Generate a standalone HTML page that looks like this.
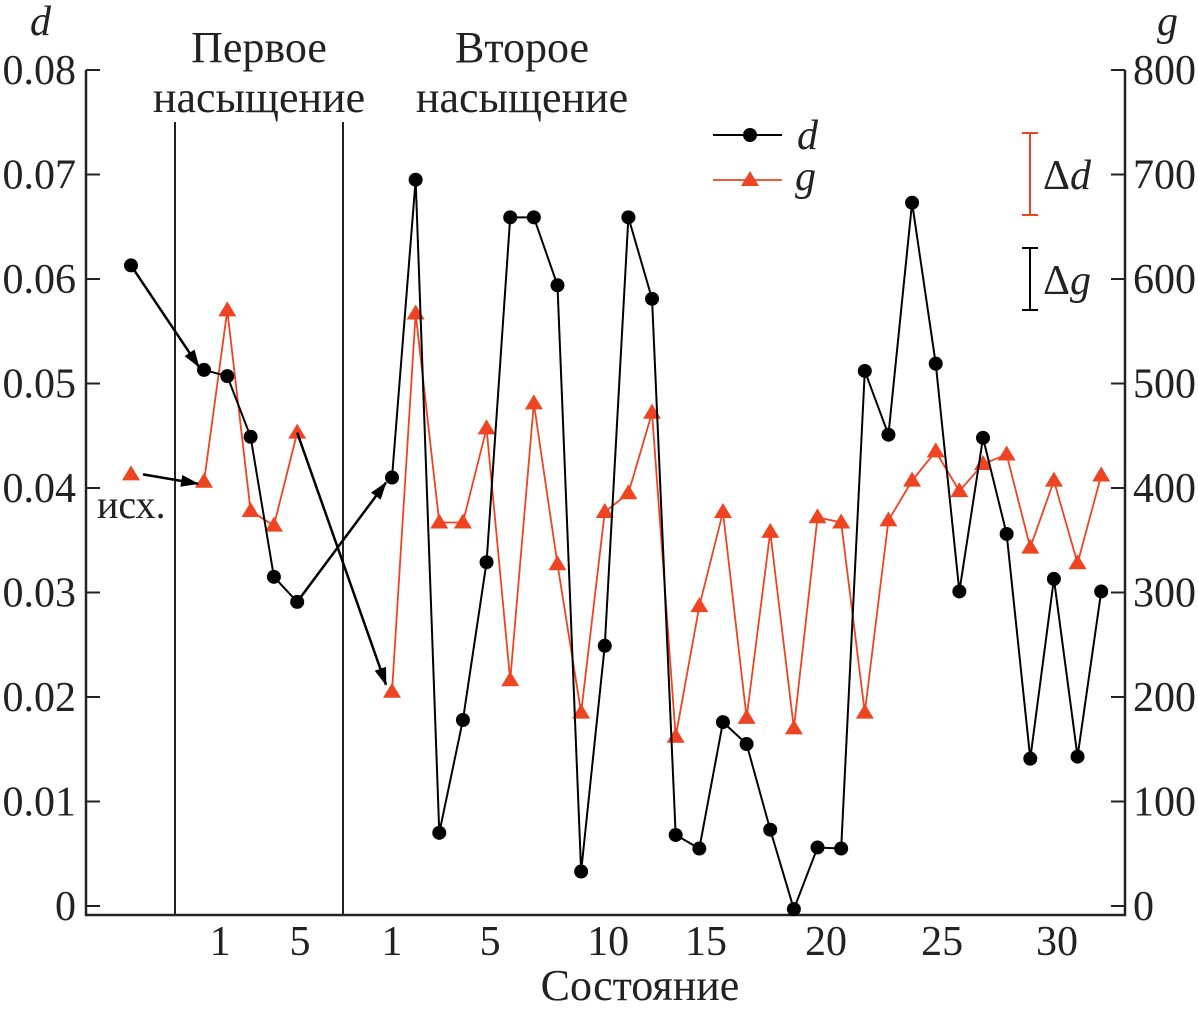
<!DOCTYPE html>
<html><head><meta charset="utf-8"><style>
body{margin:0;background:#fff}
svg text{font-family:"Liberation Serif",serif;fill:#222}
</style></head><body>
<svg id="c" width="1198" height="1014" viewBox="0 0 1198 1014" xmlns="http://www.w3.org/2000/svg">
<defs>
<marker id="ahb" markerWidth="18" markerHeight="12" refX="17" refY="6" orient="auto" markerUnits="userSpaceOnUse" viewBox="0 0 18 12"><path d="M0,0 L18,6 L0,12 z" fill="#000"/></marker>
</defs>
<g id="axes"></g>
<g id="marks"></g>
</svg>
<script>
const initD = 0.0613;
const initG = 413;
const firstD = [0.0513, 0.0507, 0.0449, 0.0315, 0.0291];
const firstG = [406, 570, 378, 364, 453];
const secondD = [0.0410,0.0695,0.0070,0.0178,0.0329,0.0659,0.0659,0.0594,0.0033,0.0249,0.0659,0.0581,0.0068,0.0055,0.0176,0.0155,0.0073,-0.0003,0.0056,0.0055,0.0512,0.0451,0.0673,0.0519,0.0301,0.0448,0.0356,0.0141,0.0313,0.0143,0.0301];
const secondG = [205,567,367,367,457,216,481,327,185,377,395,472,162,287,377,180,358,170,372,367,185,369,407,435,397,423,432,343,407,328,412];
const dTicks = ["0","0.01","0.02","0.03","0.04","0.05","0.06","0.07","0.08"];
const gTicks = ["0","100","200","300","400","500","600","700","800"];
const firstLabels = [[1.69,"1"],[5.12,"5"]];
const secondLabels = [[1,"1"],[5.15,"5"],[10.14,"10"],[14.28,"15"],[19.36,"20"],[24.27,"25"],[29.13,"30"]];

const NS="http://www.w3.org/2000/svg";
const Y0=906, YS=10450;
const yD=v=>Y0-v*YS;
const yG=v=>Y0-v*(836/800);
const xInit=131;
const xFirst=i=>204+(i-1)*23.3;
const xSecond=i=>392+(i-1)*23.64;
const axes=document.getElementById('axes'), marks=document.getElementById('marks');
function mk(tag,attrs,parent,text){const e=document.createElementNS(NS,tag);for(const k in attrs)e.setAttribute(k,attrs[k]);if(text!==undefined)e.textContent=text;parent.appendChild(e);return e;}
const FS=42;
let e;
e=mk('path',{d:'M86,70 V915 H1125 V70',fill:'none',stroke:'#222','stroke-width':2.5},axes);


dTicks.forEach((t,i)=>{const y=yD(i*0.01);
 mk('line',{x1:86,x2:100,y1:y,y2:y,stroke:'#222','stroke-width':2},axes);
 e=mk('text',{x:76,y:y+14,'text-anchor':'end','font-size':FS},axes,t);
 
 
});
gTicks.forEach((t,i)=>{const y=yG(i*100);
 mk('line',{x1:1111,x2:1125,y1:y,y2:y,stroke:'#222','stroke-width':2},axes);
 e=mk('text',{x:1133,y:y+14,'font-size':FS},axes,t);
 
 
});
firstLabels.forEach(([i,t])=>{e=mk('text',{x:xFirst(i),y:955,'text-anchor':'middle','font-size':FS},axes,t);
 
 });
secondLabels.forEach(([i,t])=>{e=mk('text',{x:xSecond(i),y:955,'text-anchor':'middle','font-size':FS},axes,t);
 
 });
e=mk('text',{x:640,y:1000,'text-anchor':'middle','font-size':44},axes,'Состояние');


e=mk('text',{x:30,y:35,'font-size':FS,'font-style':'italic'},axes,'d');


e=mk('text',{x:1157,y:35,'font-size':FS,'font-style':'italic'},axes,'g');


[175,343].forEach(x=>{e=mk('line',{x1:x,x2:x,y1:122,y2:915,stroke:'#222','stroke-width':2},axes);
 
 });
[['Первое',259,62],['насыщение',259,112],['Второе',522,62],['насыщение',522,112]].forEach(([t,x,y])=>{
 e=mk('text',{x:x,y:y,'text-anchor':'middle','font-size':44},axes,t);
 
 });
e=mk('text',{x:97,y:518,'font-size':40},axes,'исх.');



const RED='#ee4422';
function series(xs,vals,yf,color,kind,name){
 const pts=vals.map((v,i)=>[xs[i],yf(v)]);
 e=mk('polyline',{points:pts.map(p=>p.join(',')).join(' '),fill:'none',stroke:color,'stroke-width':kind==='c'?2:1.8},marks);
 
 
 pts.forEach(([x,y])=>{
  if(kind==='c'){e=mk('circle',{cx:x,cy:y,r:7,fill:'#000'},marks);}
  else{e=mk('path',{d:`M${x},${y-9} L${x+9},${y+6} L${x-9},${y+6} Z`,fill:RED},marks);}
  
  
 });
}
const fx=firstD.map((_,i)=>xFirst(i+1)), sx=secondD.map((_,i)=>xSecond(i+1));
series(fx,firstG,yG,RED,'t','g-first');
series(sx,secondG,yG,RED,'t','g-second');
series([xInit],[initG],yG,RED,'t','g-initial');
series(fx,firstD,yD,'#000','c','d-first');
series(sx,secondD,yD,'#000','c','d-second');
series([xInit],[initD],yD,'#000','c','d-initial');

function arrow(x1,y1,x2,y2){e=mk('line',{x1,y1,x2,y2,stroke:'#000','stroke-width':2.5,'marker-end':'url(#ahb)'},marks);
 
 }
arrow(xInit,yD(initD),xFirst(1)-5,yD(firstD[0])-3);
arrow(xInit+12,yG(initG),xFirst(1)-6,yG(firstG[0])+2);
arrow(xFirst(5),yD(firstD[4]),xSecond(1)-6,yD(secondD[0])+5);
arrow(xFirst(5),yG(firstG[4]),xSecond(1)-6,yG(secondG[0])-7);

e=mk('line',{x1:713,x2:782,y1:135,y2:135,stroke:'#000','stroke-width':2},marks);


mk('circle',{cx:750,cy:135,r:7,fill:'#000'},marks);
e=mk('text',{x:797,y:149,'font-size':FS,'font-style':'italic'},marks,'d');


e=mk('line',{x1:713,x2:782,y1:180,y2:180,stroke:RED,'stroke-width':1.8},marks);


mk('path',{d:'M750,171 L759,186 L741,186 Z',fill:RED},marks);
e=mk('text',{x:795,y:190,'font-size':FS,'font-style':'italic'},marks,'g');



e=mk('path',{d:'M1022,133 H1038 M1030,133 V215 M1022,215 H1038',stroke:RED,'stroke-width':2,fill:'none'},marks);


e=mk('text',{x:1043,y:189,'font-size':FS},marks,'Δ');


mk('tspan',{'font-style':'italic'},e,'d');
e=mk('path',{d:'M1022,248 H1038 M1030,248 V310 M1022,310 H1038',stroke:'#000','stroke-width':2,fill:'none'},marks);


e=mk('text',{x:1043,y:294,'font-size':FS},marks,'Δ');


mk('tspan',{'font-style':'italic'},e,'g');
</script>
</body></html>
